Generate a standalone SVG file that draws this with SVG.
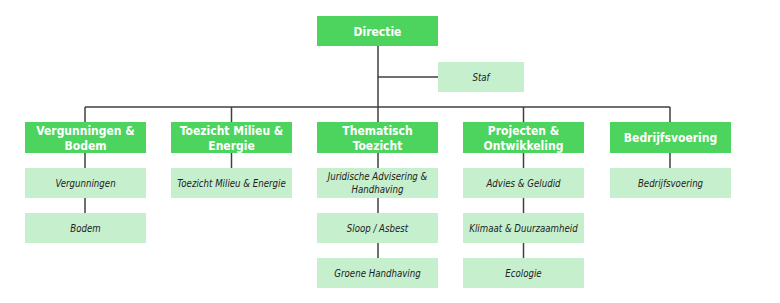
<svg xmlns="http://www.w3.org/2000/svg" width="780" height="303" viewBox="0 0 780 303">
<style>
.h{fill:#4cd45e}
.s{fill:#c6efce}
.ht{font-family:"DejaVu Sans Condensed","DejaVu Sans",sans-serif;font-weight:bold;font-size:12px;fill:#fff;text-anchor:middle}
.st{font-family:"DejaVu Sans Condensed","DejaVu Sans",sans-serif;font-style:italic;font-size:9.6px;fill:#222;text-anchor:middle}
.c{stroke:#404040;stroke-width:1.5;fill:none}
</style>
<rect width="780" height="303" fill="#fff"/>
<g id="connectors" class="c">
<path d="M378 46V122M378 77H438M85 107H670M85 107V122M231.5 107V122M523.5 107V122M670 107V122"/>
<path d="M85 153V168M85 198V213"/>
<path d="M231.5 153V168"/>
<path d="M378 153V168M378 198V213M378 243V258"/>
<path d="M523.5 153V168M523.5 198V213M523.5 243V258"/>
<path d="M670 153V168"/>
</g>
<g id="directie"><rect class="h" x="317" y="16" width="121" height="30"/><text class="ht" x="377.5" y="35.5">Directie</text></g>
<g id="staf"><rect class="s" x="438" y="62" width="86" height="30"/><text class="st" x="481" y="80.5">Staf</text></g>
<g id="vergunningen-bodem"><rect class="h" x="25" y="122" width="121" height="31"/><text class="ht" x="85.5" y="134.5">Vergunningen &amp;</text><text class="ht" x="85.5" y="149.5">Bodem</text></g>
<g id="vergunningen"><rect class="s" x="25" y="168" width="121" height="30"/><text class="st" x="85.5" y="186.5">Vergunningen</text></g>
<g id="bodem"><rect class="s" x="25" y="213" width="121" height="30"/><text class="st" x="85.5" y="231.5">Bodem</text></g>
<g id="toezicht-milieu-energie"><rect class="h" x="171" y="122" width="121" height="31"/><text class="ht" x="231.5" y="134.5">Toezicht Milieu &amp;</text><text class="ht" x="231.5" y="149.5">Energie</text></g>
<g id="toezicht-milieu-energie-sub"><rect class="s" x="171" y="168" width="121" height="30"/><text class="st" x="231.5" y="186.5">Toezicht Milieu &amp; Energie</text></g>
<g id="thematisch-toezicht"><rect class="h" x="317" y="122" width="121" height="31"/><text class="ht" x="377.5" y="134.5">Thematisch</text><text class="ht" x="377.5" y="149.5">Toezicht</text></g>
<g id="juridische"><rect class="s" x="317" y="168" width="121" height="30"/><text class="st" x="377.5" y="180">Juridische Advisering &amp;</text><text class="st" x="377.5" y="193">Handhaving</text></g>
<g id="sloop"><rect class="s" x="317" y="213" width="121" height="30"/><text class="st" x="377.5" y="231.5">Sloop / Asbest</text></g>
<g id="groene"><rect class="s" x="317" y="258" width="121" height="30"/><text class="st" x="377.5" y="276.5">Groene Handhaving</text></g>
<g id="projecten-ontwikkeling"><rect class="h" x="463" y="122" width="121" height="31"/><text class="ht" x="523.5" y="134.5">Projecten &amp;</text><text class="ht" x="523.5" y="149.5">Ontwikkeling</text></g>
<g id="advies"><rect class="s" x="463" y="168" width="121" height="30"/><text class="st" x="523.5" y="186.5">Advies &amp; Geludid</text></g>
<g id="klimaat"><rect class="s" x="463" y="213" width="121" height="30"/><text class="st" x="523.5" y="231.5">Klimaat &amp; Duurzaamheid</text></g>
<g id="ecologie"><rect class="s" x="463" y="258" width="121" height="30"/><text class="st" x="523.5" y="276.5">Ecologie</text></g>
<g id="bedrijfsvoering"><rect class="h" x="610" y="122" width="121" height="31"/><text class="ht" x="670.5" y="142">Bedrijfsvoering</text></g>
<g id="bedrijfsvoering-sub"><rect class="s" x="610" y="168" width="121" height="30"/><text class="st" x="670.5" y="186.5">Bedrijfsvoering</text></g>
</svg>
